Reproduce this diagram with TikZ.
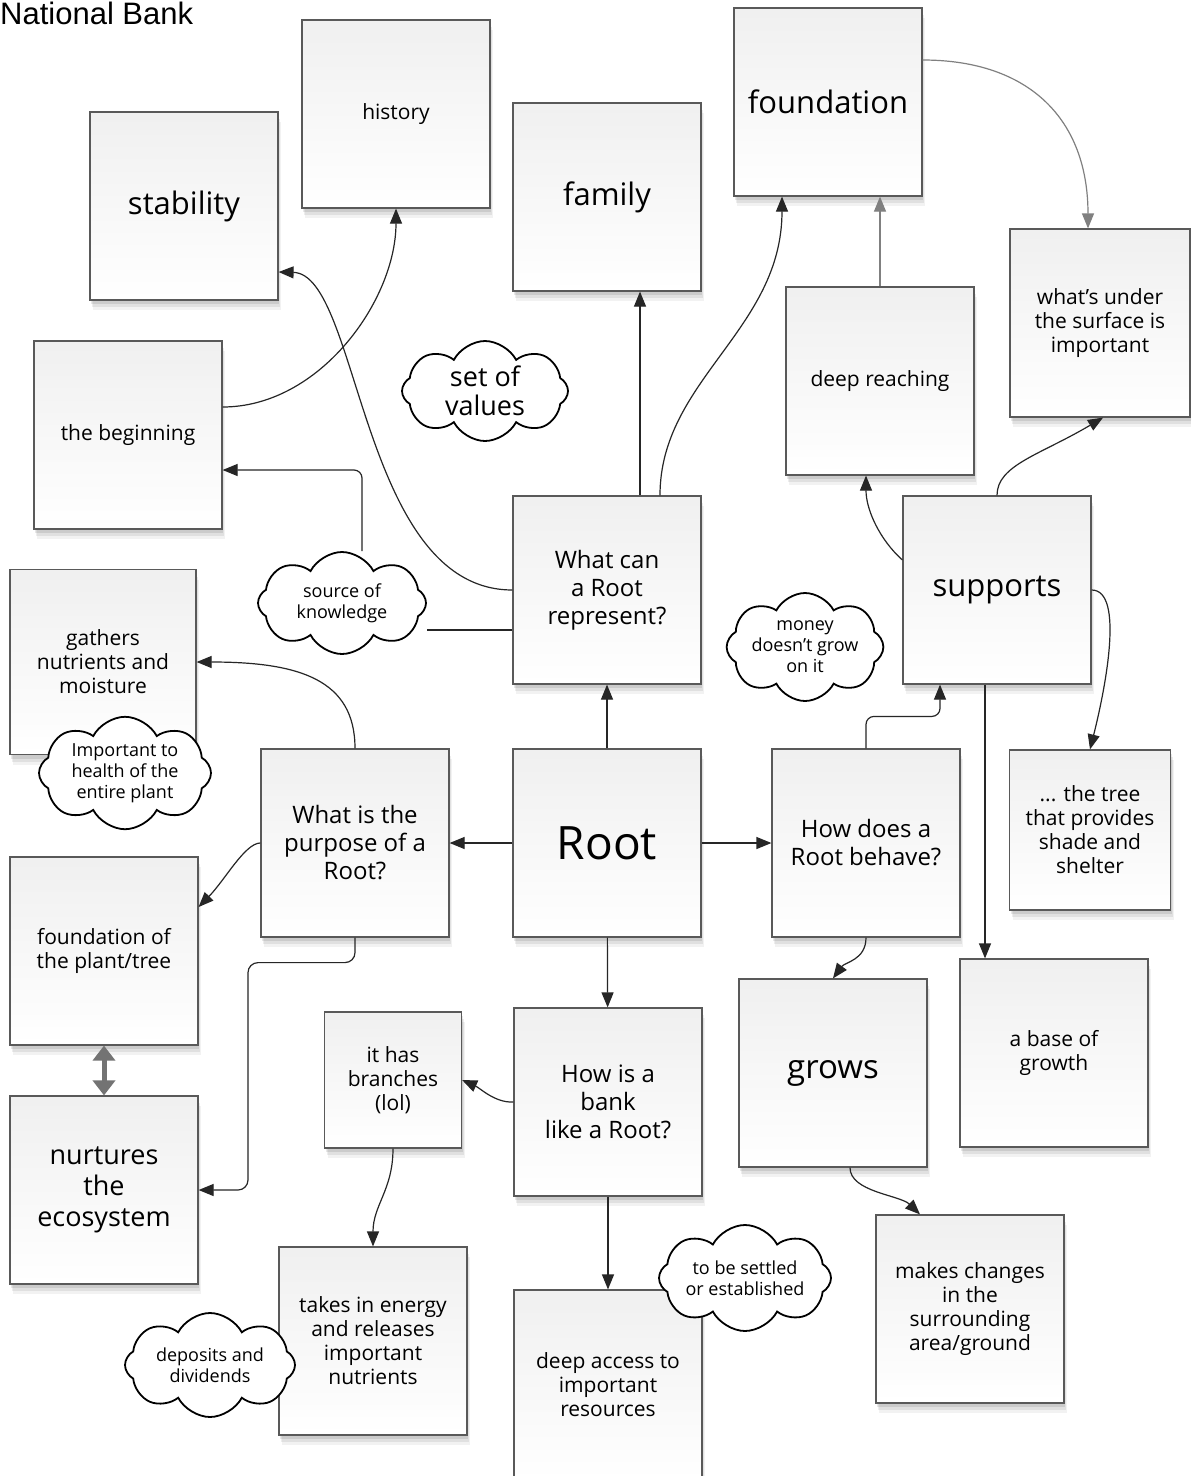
\documentclass[tikz,border=0pt]{standalone}
\usepackage{fontspec}
\setmainfont{Open Sans}
\newfontfamily\arialfont{Liberation Sans}
\usetikzlibrary{arrows.meta,shapes.symbols,shadows}
\pgfdeclarelayer{bg}
\pgfsetlayers{bg,main}
\tikzset{
  box/.style={draw=black!65, line width=1.2pt, top color=black!6, bottom color=white,
    minimum width=188pt, minimum height=188pt, inner sep=2pt, align=center,
    drop shadow={shadow xshift=3pt, shadow yshift=-10pt, opacity=.05, fill=black},
    drop shadow={shadow xshift=2pt, shadow yshift=-7pt, opacity=.07, fill=black},
    drop shadow={shadow xshift=1pt, shadow yshift=-4pt, opacity=.09, fill=black}},
  bigt/.style={font=\fontsize{31}{34}\selectfont},
  qt/.style={font=\fontsize{24}{28}\selectfont},
  st/.style={font=\fontsize{21}{24}\selectfont},
  ct/.style={font=\fontsize{18}{21}\selectfont},
  thought/.style={cloud, cloud puffs=8, cloud puff arc=125, cloud ignores aspect,
    draw=black, line width=1.8pt, fill=white, inner sep=0pt, align=center},
  arr/.style={draw=black!85, line width=1.2pt, -{Triangle[length=15pt,width=12pt]}},
  plain/.style={draw=black!85, line width=1.2pt},
  garr/.style={draw=black!50, line width=1.2pt, -{Triangle[length=15pt,width=12pt]}},
  dbl/.style={draw=black!55, line width=5pt, {Triangle[length=15pt,width=22pt]}-{Triangle[length=15pt,width=22pt]}}
}
\begin{document}
\begin{tikzpicture}[x=1pt, y=-1pt]
\begin{pgfonlayer}{bg}
\fill[white] (0,0) rectangle (1191,1476);
\end{pgfonlayer}
\useasboundingbox (0,0) rectangle (1191,1476);

\node[anchor=base west, inner sep=0pt, font=\arialfont\fontsize{31}{34}\selectfont] (title) at (0,24) {National Bank};

% boxes
\node[box, bigt] (stab) at (184,206) {stability};
\node[box, st] (hist) at (396,114) {history};
\node[box, bigt] (fam) at (607,197) {family};
\node[box, bigt] (fnd) at (828,102) {foundation};
\node[box, st, minimum width=180pt] (under) at (1100,323) {what's under\\the surface is\\important};
\node[box, st] (deep) at (880,381) {deep reaching};
\node[box, st] (begin) at (128,435) {the beginning};
\node[box, qt] (represent) at (607,590) {What can\\a Root\\represent?};
\node[box, bigt] (supports) at (997,590) {supports};
\node[box, st, minimum width=186pt, minimum height=185pt] (gathers) at (103,662) {gathers\\nutrients and\\moisture};
\node[box, qt] (purpose) at (355,843) {What is the\\purpose of a\\Root?};
\node[box, font=\fontsize{46}{50}\selectfont] (root) at (607,843) {Root};
\node[box, qt] (behave) at (866,843) {How does a\\Root behave?};
\node[box, st, minimum width=161pt, minimum height=160pt] (tree) at (1090,830) {... the tree\\that provides\\shade and\\shelter};
\node[box, st] (fplant) at (104,951) {foundation of\\the plant/tree};
\node[box, font=\fontsize{33}{36}\selectfont] (grows) at (833,1073) {grows};
\node[box, st] (base) at (1054,1053) {a base of\\growth};
\node[box, st, minimum width=137pt, minimum height=136pt] (branches) at (393,1080) {it has\\branches\\(lol)};
\node[box, qt] (bank) at (608,1102) {How is a\\bank\\like a Root?};
\node[box, font=\fontsize{27}{31}\selectfont] (nurtures) at (104,1190) {nurtures\\the\\ecosystem};
\node[box, st] (takes) at (373,1341) {takes in energy\\and releases\\important\\nutrients};
\node[box, st, minimum height=190pt] (access) at (608,1385) {deep access to\\important\\resources};
\node[box, st] (changes) at (970,1309) {makes changes\\in the\\surrounding\\area/ground};

% connectors
\draw[arr] (root) -- (represent);
\draw[arr] (root) -- (purpose);
\draw[arr] (root) -- (behave);
\draw[arr] (root) -- (bank);
\draw[arr] ([xshift=33pt]represent.north) -- ([xshift=33pt]represent.north |- fam.south);
\draw[arr] ([xshift=53pt]represent.north) .. controls (660,380) and (782,330) .. ([xshift=-46pt]fnd.south);
\draw[arr] (represent.west) .. controls (360,590) and (360,274) .. ([yshift=-66pt]stab.east);
\draw[arr] ([yshift=28pt]begin.east) .. controls (320,407) and (396,300) .. (hist.south);
\draw[garr] (deep.north) -- (deep.north |- fnd.south);
\draw[garr] ([yshift=42pt]fnd.east) .. controls (1030,60) and (1088,120) .. ([xshift=-12pt]under.north);
\draw[arr] (supports.north) .. controls (997,465) and (1040,455) .. ([xshift=3pt]under.south);
\draw[arr] ([yshift=30pt]supports.west) .. controls (880,540) and (866,510) .. ([xshift=-14pt]deep.south);
\draw[arr] (supports.east) .. controls (1125,590) and (1105,690) .. (tree.north);
\draw[arr] ([xshift=-12pt]supports.south) -- ([xshift=-12pt]supports.south |- base.north);
\draw[arr, rounded corners=8pt] (behave.north) -- ++(0,-32) -| ([xshift=-57pt]supports.south);
\draw[arr] (behave.south) .. controls (866,960) and (845,962) .. (grows.north);
\draw[arr] ([xshift=17pt]grows.south) .. controls (850,1192) and (900,1195) .. ([xshift=-50pt]changes.north);
\draw[arr] (purpose.north) .. controls (355,680) and (300,662) .. (gathers.east);
\draw[arr] (purpose.west) .. controls (245,843) and (225,880) .. ([yshift=44pt]fplant.east);
\draw[arr, rounded corners=10pt] (purpose.south) -- ++(0,25) -| (248,1100) |- (nurtures.east);
\draw[dbl] (fplant) -- (nurtures);
\draw[arr] (bank.west) .. controls (495,1103) and (480,1088) .. (branches.east);
\draw[arr] (branches.south) .. controls (393,1190) and (373,1205) .. (takes.north);
\draw[arr] (bank) -- (access);

% clouds
\node[thought, font=\fontsize{27}{29}\selectfont, minimum width=166pt, minimum height=100pt] (values) at (485,391) {set of\\values};
\node[thought, ct, minimum width=168pt, minimum height=102pt] (knowledge) at (342,603) {source of\\knowledge};
\node[thought, ct, minimum width=136pt, minimum height=108pt] (money) at (805,647) {money\\doesn't grow\\on it};
\node[thought, ct, minimum width=172pt, minimum height=106pt] (important) at (125,773) {Important to\\health of the\\entire plant};
\node[thought, ct, minimum width=170pt, minimum height=104pt] (deposits) at (210,1365) {deposits and\\dividends};
\node[thought, ct, minimum width=172pt, minimum height=106pt] (settled) at (745,1278) {to be settled\\or established};

\begin{pgfonlayer}{bg}
\draw[plain] ([yshift=-40pt]represent.west) -- ([yshift=-40pt]represent.west -| knowledge.east);
\draw[arr, rounded corners=8pt] ([xshift=20pt]knowledge.north) |- ([yshift=-35pt]begin.east);
\end{pgfonlayer}
\end{tikzpicture}
\end{document}
